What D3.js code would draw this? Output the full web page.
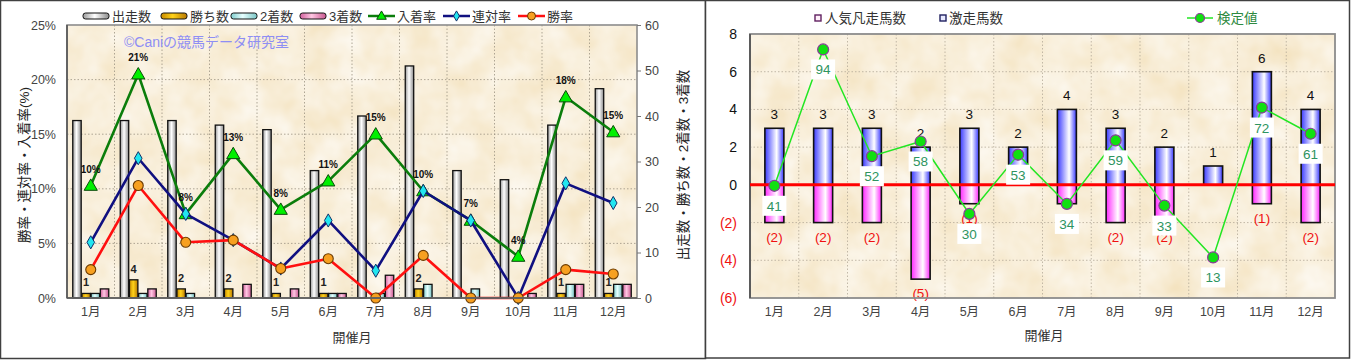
<!DOCTYPE html>
<html><head><meta charset="utf-8">
<script src="https://cdn.jsdelivr.net/npm/d3@7"></script>
<style>
html,body{margin:0;padding:0;background:#fff;}
svg{display:block;}
text{font-family:"Liberation Sans","Noto Sans CJK JP",sans-serif;}
</style></head>
<body>
<svg id="c" width="1351" height="360"></svg>
<script>
// ---------- data (left chart) ----------
const months = ["1月","2月","3月","4月","5月","6月","7月","8月","9月","10月","11月","12月"];
const runs    = [39,39,39,38,37,28,40,51,28,26,38,46];
const wins    = [1,4,2,2,1,1,0,2,0,0,1,1];
const seconds = [1,1,1,0,0,1,1,3,2,0,3,3];
const thirds  = [2,2,0,3,2,1,5,0,0,1,3,3];
const placeRate  = [10.3,20.5,7.7,13.2,8.1,10.7,15.0,9.8,7.1,3.8,18.4,15.2];
const placeLabels = ["10%","21%","8%","13%","8%","11%","15%","10%","7%","4%","18%","15%"];
const rentaiRate = [5.1,12.8,7.7,5.3,2.7,7.1,2.5,9.8,7.1,0,10.5,8.7];
const winRate    = [2.6,10.3,5.1,5.3,2.7,3.6,0,3.9,0,0,2.6,2.2];
const leftTicks  = [0,5,10,15,20,25];
const rightTicks = [0,10,20,30,40,50,60];
// ---------- data (right chart) ----------
const gekisou = [3,3,3,2,3,2,4,3,2,1,6,4];
const bonsou  = [2,2,2,5,1,0,1,2,2,0,1,2];
const kenteiPos   = [-0.05,7.18,1.52,2.3,-1.54,1.6,-1.01,2.36,-1.1,-3.85,4.1,2.71];
const kenteiLabel = [41,94,52,58,30,53,34,59,33,13,72,61];
const rTicks = [-6,-4,-2,0,2,4,6,8];

const svg = d3.select("#c");
const defs = svg.append("defs");
function hgrad(id, stops){
  const g = defs.append("linearGradient").attr("id",id).attr("x1","0").attr("x2","1").attr("y1","0").attr("y2","0");
  stops.forEach(s=>g.append("stop").attr("offset",s[0]).attr("stop-color",s[1]));
}
hgrad("gRun",[[0,"#9a9a9a"],[0.45,"#ffffff"],[1,"#8a8a8a"]]);
hgrad("gWin",[[0,"#c88a00"],[0.45,"#ffd21a"],[1,"#b87800"]]);
hgrad("gSec",[[0,"#7fcccc"],[0.45,"#e6ffff"],[1,"#78c4c4"]]);
hgrad("gThi",[[0,"#d0609c"],[0.45,"#ffc6e2"],[1,"#c85890"]]);
hgrad("gBlue",[[0,"#3a3aff"],[0.62,"#ffffff"],[1,"#3838ff"]]);
hgrad("gMag",[[0,"#ff28ff"],[0.62,"#ffffff"],[1,"#ff28ff"]]);
const f = defs.append("filter").attr("id","paper").attr("x","0").attr("y","0").attr("width","1").attr("height","1");
f.append("feTurbulence").attr("type","fractalNoise").attr("baseFrequency","0.03").attr("numOctaves","3").attr("seed","7");
f.append("feColorMatrix").attr("type","matrix").attr("values","0 0 0 0 1  0 0 0 0 1  0 0 0 0 1  0.9 0 0 0 -0.05");

// panel frames
svg.append("rect").attr("x",0.5).attr("y",0.5).attr("width",705).attr("height",358).attr("fill","#fff").attr("stroke","#404040").attr("stroke-width",1.5);
svg.append("rect").attr("x",705.5).attr("y",0.5).attr("width",644).attr("height",357.5).attr("fill","#fff").attr("stroke","#404040").attr("stroke-width",1.5);

function paper(x0,y0,w,h){
  svg.append("rect").attr("x",x0).attr("y",y0).attr("width",w).attr("height",h).attr("fill","#f4e3c0");
  svg.append("rect").attr("x",x0).attr("y",y0).attr("width",w).attr("height",h).attr("filter","url(#paper)");
}

// ================= LEFT CHART =================
const L = {x0:67,x1:637,y0:25,y1:298};
paper(L.x0,L.y0,L.x1-L.x0,L.y1-L.y0);
const xL = d3.scaleBand().domain(months).range([L.x0,L.x1]);
const yL = d3.scaleLinear().domain([0,25]).range([L.y1,L.y0]);
const yR = d3.scaleLinear().domain([0,60]).range([L.y1,L.y0]);
const xSub = d3.scaleBand().domain(["run","win","sec","thi"]).range([5.75,41.75]).paddingInner(0.08);

const gl = svg.append("g");
// grid
gl.selectAll(".hg").data(leftTicks.filter(d=>d>0&&d<25)).join("line")
  .attr("x1",L.x0).attr("x2",L.x1).attr("y1",d=>yL(d)).attr("y2",d=>yL(d))
  .attr("stroke","#9a9282").attr("stroke-width",0.8).attr("stroke-dasharray","1.5,2");
gl.selectAll(".vg").data(months.slice(1)).join("line")
  .attr("x1",d=>xL(d)).attr("x2",d=>xL(d)).attr("y1",L.y0).attr("y2",L.y1)
  .attr("stroke","#9a9282").attr("stroke-width",0.8).attr("stroke-dasharray","1.5,2");

// bars
const series = [["run",runs,"url(#gRun)"],["win",wins,"url(#gWin)"],["sec",seconds,"url(#gSec)"],["thi",thirds,"url(#gThi)"]];
series.forEach(([k,vals,fill])=>{
  gl.append("g").selectAll("rect").data(months.map((m,i)=>({m,v:vals[i]})).filter(d=>d.v>0)).join("rect")
    .attr("x",d=>xL(d.m)+xSub(k)).attr("width",xSub.bandwidth())
    .attr("y",d=>yR(d.v)).attr("height",d=>yR(0)-yR(d.v))
    .attr("fill",fill).attr("stroke","#111").attr("stroke-width",1.3);
});
// win count labels
gl.append("g").selectAll("text").data(months.map((m,i)=>({m,v:wins[i]})).filter(d=>d.v>0)).join("text")
  .attr("x",d=>xL(d.m)+xSub("win")+xSub.bandwidth()/2).attr("y",d=>yR(d.v)-7)
  .attr("text-anchor","middle").attr("font-size",11).attr("font-weight","bold").attr("fill","#222").text(d=>d.v);

// frame
svg.append("rect").attr("x",L.x0).attr("y",L.y0).attr("width",L.x1-L.x0).attr("height",L.y1-L.y0)
  .attr("fill","none").attr("stroke","#8c8c8c").attr("stroke-width",1.6);
svg.append("line").attr("x1",L.x0).attr("x2",L.x0).attr("y1",L.y0).attr("y2",L.y1).attr("stroke","#555").attr("stroke-width",1.6);
svg.append("line").attr("x1",L.x0).attr("x2",L.x1).attr("y1",L.y1).attr("y2",L.y1).attr("stroke","#555").attr("stroke-width",1.6);

// lines
const cx = m => xL(m)+xL.bandwidth()/2;
function drawLine(vals,color){
  const ln = d3.line().x((d,i)=>cx(months[i])).y(d=>yL(d));
  gl.append("path").attr("d",ln(vals)).attr("fill","none").attr("stroke",color).attr("stroke-width",2.6).attr("stroke-linejoin","round");
}
drawLine(placeRate,"#0b7d0b");
gl.append("g").selectAll("path").data(placeRate).join("path")
  .attr("d",d3.symbol().type(d3.symbolTriangle).size(75))
  .attr("transform",(d,i)=>`translate(${cx(months[i])},${yL(d)+1})`)
  .attr("fill","#00f000").attr("stroke","#0a4a0a").attr("stroke-width",1);
gl.append("g").selectAll("text").data(placeLabels).join("text")
  .attr("x",(d,i)=>cx(months[i])).attr("y",(d,i)=>yL(placeRate[i])-13)
  .attr("text-anchor","middle").attr("font-size",10).attr("font-weight","bold").attr("fill","#111").text(d=>d);
drawLine(rentaiRate,"#101080");
gl.append("g").selectAll("path").data(rentaiRate).join("path")
  .attr("d",d3.symbol().type(d3.symbolDiamond).size(50))
  .attr("transform",(d,i)=>`translate(${cx(months[i])},${yL(d)})`)
  .attr("fill","#22e6f0").attr("stroke","#10306a").attr("stroke-width",1);
drawLine(winRate,"#ff1010");
gl.append("g").selectAll("circle").data(winRate).join("circle")
  .attr("cx",(d,i)=>cx(months[i])).attr("cy",d=>yL(d)).attr("r",5)
  .attr("fill","#f7a020").attr("stroke","#6a3a00").attr("stroke-width",1.1);

// axes
const axL = svg.append("g").attr("transform",`translate(${L.x0},0)`)
  .call(d3.axisLeft(yL).tickValues(leftTicks).tickFormat(d=>d+"%").tickSize(0).tickPadding(11));
const axR = svg.append("g").attr("transform",`translate(${L.x1},0)`)
  .call(d3.axisRight(yR).tickValues(rightTicks).tickSize(4).tickPadding(4));
const axB = svg.append("g").attr("transform",`translate(0,${L.y1})`)
  .call(d3.axisBottom(xL).tickSize(0).tickPadding(9));
[axL,axR,axB].forEach(a=>{a.select(".domain").remove(); a.selectAll("text").attr("font-size",12.5).attr("fill","#444").style("font-family","'Liberation Sans','Noto Sans CJK JP',sans-serif");});
axR.selectAll("line").attr("stroke","#777");

svg.append("text").attr("transform","translate(29,165) rotate(-90)").attr("text-anchor","middle")
  .attr("font-size",13.5).attr("fill","#222").text("勝率・連対率・入着率(%)");
svg.append("text").attr("transform","translate(688,165) rotate(-90)").attr("text-anchor","middle")
  .attr("font-size",13.5).attr("fill","#222").text("出走数・勝ち数・2着数・3着数");
svg.append("text").attr("x",352).attr("y",342).attr("text-anchor","middle").attr("font-size",13).attr("fill","#333").text("開催月");
svg.append("text").attr("x",124).attr("y",47).attr("font-size",14).attr("fill","#8e8ef4").text("©Caniの競馬データ研究室");

// legend left
const legBars = [["出走数","url(#gRun)",83],["勝ち数","url(#gWin)",161],["2着数","url(#gSec)",231],["3着数","url(#gThi)",300]];
legBars.forEach(([t,fill,x])=>{
  svg.append("rect").attr("x",x).attr("y",13).attr("width",26).attr("height",6).attr("rx",2.5).attr("fill",fill).attr("stroke","#111").attr("stroke-width",1);
  svg.append("text").attr("x",x+29).attr("y",21).attr("font-size",13).attr("fill","#333").text(t);
});
const legLines = [["入着率","#0b7d0b",368,"tri"],["連対率","#101080",443,"dia"],["勝率","#ff1010",518,"cir"]];
legLines.forEach(([t,col,x,s])=>{
  svg.append("line").attr("x1",x).attr("x2",x+27).attr("y1",16).attr("y2",16).attr("stroke",col).attr("stroke-width",2.5);
  if(s==="tri") svg.append("path").attr("d",d3.symbol().type(d3.symbolTriangle).size(40)).attr("transform",`translate(${x+13.5},16.5)`).attr("fill","#00f000").attr("stroke","#0a4a0a");
  if(s==="dia") svg.append("path").attr("d",d3.symbol().type(d3.symbolDiamond).size(30)).attr("transform",`translate(${x+13.5},16)`).attr("fill","#22e6f0").attr("stroke","#10306a");
  if(s==="cir") svg.append("circle").attr("cx",x+13.5).attr("cy",16).attr("r",4).attr("fill","#f7a020").attr("stroke","#6a3a00");
  svg.append("text").attr("x",x+29).attr("y",21).attr("font-size",13).attr("fill","#333").text(t);
});

// ================= RIGHT CHART =================
const R = {x0:750,x1:1335,y0:34,y1:298};
paper(R.x0,R.y0,R.x1-R.x0,R.y1-R.y0);
const xB = d3.scaleBand().domain(months).range([R.x0,R.x1]);
const yB = d3.scaleLinear().domain([-6,8]).range([R.y1,R.y0]);
const bw = 19;
const cxR = m => xB(m)+xB.bandwidth()/2;
const gr = svg.append("g");
gr.selectAll(".hg").data(rTicks.filter(d=>d>-6&&d<8)).join("line")
  .attr("x1",R.x0).attr("x2",R.x1).attr("y1",d=>yB(d)).attr("y2",d=>yB(d))
  .attr("stroke","#b4aa98").attr("stroke-width",0.8).attr("stroke-dasharray","1.5,2");
gr.selectAll(".vg").data(months.slice(1)).join("line")
  .attr("x1",d=>xB(d)).attr("x2",d=>xB(d)).attr("y1",R.y0).attr("y2",R.y1)
  .attr("stroke","#b4aa98").attr("stroke-width",0.8).attr("stroke-dasharray","1.5,2");
// bars
gr.append("g").selectAll("rect").data(months.map((m,i)=>({m,v:gekisou[i]})).filter(d=>d.v>0)).join("rect")
  .attr("x",d=>cxR(d.m)-bw/2).attr("width",bw).attr("y",d=>yB(d.v)).attr("height",d=>yB(0)-yB(d.v))
  .attr("fill","url(#gBlue)").attr("stroke","#111").attr("stroke-width",1.6);
gr.append("g").selectAll("rect").data(months.map((m,i)=>({m,v:bonsou[i]})).filter(d=>d.v>0)).join("rect")
  .attr("x",d=>cxR(d.m)-bw/2).attr("width",bw).attr("y",yB(0)).attr("height",d=>yB(-d.v)-yB(0))
  .attr("fill","url(#gMag)").attr("stroke","#111").attr("stroke-width",1.6);
// bar labels
gr.append("g").selectAll("text").data(months.map((m,i)=>({m,v:gekisou[i]})).filter(d=>d.v>0)).join("text")
  .attr("x",d=>cxR(d.m)).attr("y",d=>yB(d.v)-9).attr("text-anchor","middle").attr("font-size",13.5).attr("fill","#111").text(d=>d.v);
gr.append("g").selectAll("text").data(months.map((m,i)=>({m,v:bonsou[i]})).filter(d=>d.v>0)).join("text")
  .attr("x",d=>cxR(d.m)).attr("y",d=>yB(-d.v)+19).attr("text-anchor","middle").attr("font-size",13.5).attr("fill","#f01010").text(d=>"("+d.v+")");
// frame
svg.append("rect").attr("x",R.x0).attr("y",R.y0).attr("width",R.x1-R.x0).attr("height",R.y1-R.y0)
  .attr("fill","none").attr("stroke","#8c8c8c").attr("stroke-width",1.8);
svg.append("line").attr("x1",R.x0).attr("x2",R.x0).attr("y1",R.y0).attr("y2",R.y1).attr("stroke","#555").attr("stroke-width",1.8);
// zero line
svg.append("line").attr("x1",R.x0).attr("x2",R.x1).attr("y1",yB(0)).attr("y2",yB(0)).attr("stroke","#ff0000").attr("stroke-width",3);
// kentei line
const kl = d3.line().x((d,i)=>cxR(months[i])).y(d=>yB(d));
svg.append("path").attr("d",kl(kenteiPos)).attr("fill","none").attr("stroke","#22e622").attr("stroke-width",1.5);
const kg = svg.append("g").selectAll("g").data(kenteiPos).join("g");
kg.append("rect").attr("x",(d,i)=>cxR(months[i])-12).attr("y",d=>yB(d)+10).attr("width",24).attr("height",20).attr("fill","#fff");
kg.append("text").attr("x",(d,i)=>cxR(months[i])).attr("y",d=>yB(d)+25).attr("text-anchor","middle").attr("font-size",13.5).attr("fill","#2e9460").text((d,i)=>kenteiLabel[i]);
svg.append("g").selectAll("circle").data(kenteiPos).join("circle")
  .attr("cx",(d,i)=>cxR(months[i])).attr("cy",d=>yB(d)).attr("r",5.5)
  .attr("fill","#10e010").attr("stroke","#8a3a9a").attr("stroke-width",1.2);

// axes
const ayB = svg.append("g").attr("transform",`translate(${R.x0},0)`)
  .call(d3.axisLeft(yB).tickValues(rTicks).tickFormat(d=>d<0?"("+(-d)+")":d).tickSize(0).tickPadding(13));
ayB.select(".domain").remove();
ayB.selectAll("text").attr("font-size",14).attr("fill",d=>d<0?"#f01010":"#111").style("font-family","'Liberation Sans',sans-serif");
const axB2 = svg.append("g").attr("transform",`translate(0,${R.y1})`).call(d3.axisBottom(xB).tickSize(0).tickPadding(9));
axB2.select(".domain").remove();
axB2.selectAll("text").attr("font-size",12.5).attr("fill","#444").style("font-family","'Liberation Sans','Noto Sans CJK JP',sans-serif");
svg.append("text").attr("x",1044).attr("y",340).attr("text-anchor","middle").attr("font-size",13).attr("fill","#333").text("開催月");

// legend right
svg.append("rect").attr("x",815).attr("y",15).attr("width",6).attr("height",6).attr("fill","#fff0fa").attr("stroke","#602060").attr("stroke-width",1.4);
svg.append("text").attr("x",825).attr("y",23).attr("font-size",13.5).attr("fill","#333").text("人気凡走馬数");
svg.append("rect").attr("x",940).attr("y",15).attr("width",6).attr("height",6).attr("fill","#e8eaff").attr("stroke","#202060").attr("stroke-width",1.4);
svg.append("text").attr("x",949).attr("y",23).attr("font-size",13.5).attr("fill","#333").text("激走馬数");
svg.append("line").attr("x1",1187).attr("x2",1213).attr("y1",18).attr("y2",18).attr("stroke","#22e622").attr("stroke-width",1.5);
svg.append("circle").attr("cx",1200).attr("cy",18).attr("r",4.5).attr("fill","#10e010").attr("stroke","#8a3a9a").attr("stroke-width",1.2);
svg.append("text").attr("x",1217).attr("y",23).attr("font-size",13.5).attr("fill","#2e8a40").text("検定値");
</script>
</body></html>
